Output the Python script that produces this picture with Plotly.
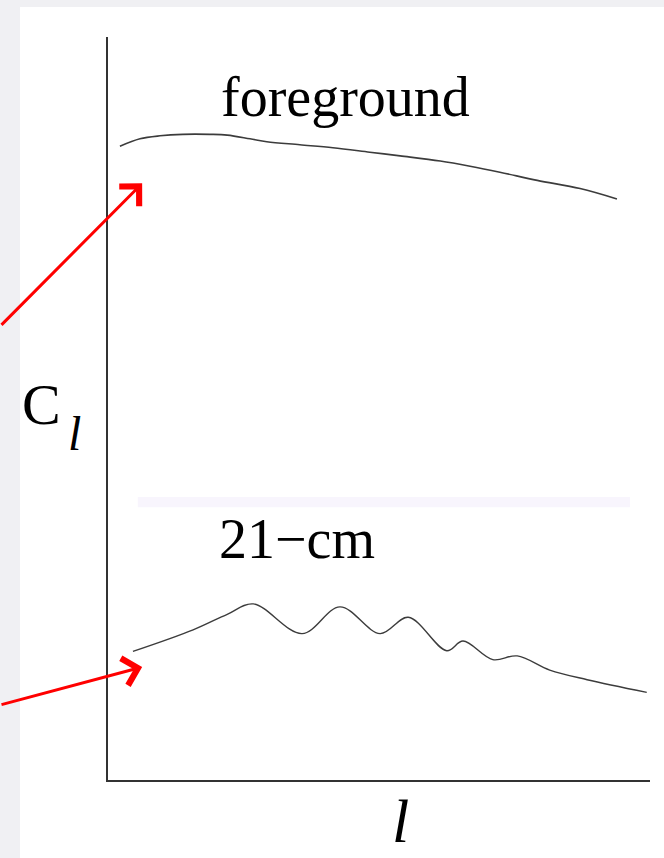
import plotly.graph_objects as go

# Angular power spectrum sketch: smooth foreground vs. oscillating 21-cm signal
# multipole axis (arbitrary units)
fg_ell = [2.2, 5.9, 9.6, 13.8, 18.8, 22.0, 26.2, 29.3, 35.4, 41.5, 48.3, 53.9,
          61.3, 66.8, 72.3, 79.2, 87.1, 93.9]
fg_cl = [85.3, 86.3, 86.7, 86.9, 86.9, 86.8, 86.3, 85.9, 85.5, 85.1, 84.5, 84.0,
         83.3, 82.6, 81.8, 80.7, 79.6, 78.2]

# 21-cm curve: peaks and troughs of the oscillations plus the smooth tails
hi_ell = [4.6, 15.7, 22.0, 26.8, 35.8, 42.8, 50.2, 55.4, 62.5, 65.5, 71.0, 75.5,
          81.5, 88.4, 99.4]
hi_cl = [17.3, 20.2, 22.3, 23.7, 19.7, 23.3, 19.7, 21.9, 17.4, 18.7, 16.2, 16.7,
         14.8, 13.5, 11.8]

x_range = [0, 100]
y_range = [0, 100]

# arrow tips pointing at each curve
fg_arrow_tip = (6.3, 80.3)
hi_arrow_tip = (6.3, 15.2)

SERIF = "Liberation Serif, Times New Roman, serif"
CURVE = "#3c3c3c"

fig = go.Figure()
fig.add_trace(go.Scatter(x=fg_ell, y=fg_cl, mode="lines",
                         line=dict(color=CURVE, width=1.6, shape="spline", smoothing=1.0),
                         hoverinfo="skip", showlegend=False))
fig.add_trace(go.Scatter(x=hi_ell, y=hi_cl, mode="lines",
                         line=dict(color=CURVE, width=1.4, shape="spline", smoothing=1.0),
                         hoverinfo="skip", showlegend=False))

shapes = [
    # white panel over the grey page
    dict(type="rect", xref="paper", yref="paper", x0=-0.1624, x1=1.05, y0=-0.12, y1=1.0404,
         fillcolor="white", line=dict(width=0), layer="below"),
    # faint separator band
    dict(type="rect", xref="x", yref="y", x0=5.5, x1=96.3, y0=36.7, y1=38.1,
         fillcolor="#f8f5fd", line=dict(width=0), layer="below"),
]

annotations = [
    dict(text="foreground", x=43.9, y=91.9, xref="x", yref="y", showarrow=False,
         font=dict(family=SERIF, size=56, color="black"), xanchor="center", yanchor="middle"),
    dict(text="21\u2212cm", x=34.9, y=32.5, xref="x", yref="y", showarrow=False,
         font=dict(family=SERIF, size=56, color="black"), xanchor="center", yanchor="middle"),
    dict(text="C", x=-0.1235, y=0.505, xref="paper", yref="paper", showarrow=False,
         font=dict(family=SERIF, size=58, color="black"), xanchor="center", yanchor="middle"),
    dict(text="<i>l</i>", x=-0.0609, y=0.467, xref="paper", yref="paper", showarrow=False,
         font=dict(family=SERIF, size=48, color="black"), xanchor="center", yanchor="middle"),
    dict(text="<i>l</i>", x=0.539, y=-0.055, xref="paper", yref="paper", showarrow=False,
         font=dict(family=SERIF, size=62, color="black"), xanchor="center", yanchor="middle"),
    dict(text="", x=fg_arrow_tip[0], y=fg_arrow_tip[1], xref="x", yref="y",
         showarrow=True, ax=-162, ay=143, axref="pixel", ayref="pixel",
         arrowhead=4, arrowsize=1.8, arrowwidth=3, arrowcolor="#ff0000", standoff=0),
    dict(text="", x=hi_arrow_tip[0], y=hi_arrow_tip[1], xref="x", yref="y",
         showarrow=True, ax=-162, ay=38, axref="pixel", ayref="pixel",
         arrowhead=4, arrowsize=1.8, arrowwidth=3, arrowcolor="#ff0000", standoff=0),
]

axis_common = dict(showgrid=False, zeroline=False, showticklabels=False, ticks="",
                   showline=True, linecolor="#333333", linewidth=2, fixedrange=True)

fig.update_layout(
    width=664, height=858, autosize=False,
    margin=dict(l=108, r=14, t=37, b=78, pad=0),
    paper_bgcolor="#f0f0f3", plot_bgcolor="rgba(0,0,0,0)",
    xaxis=dict(range=x_range, **axis_common),
    yaxis=dict(range=y_range, **axis_common),
    shapes=shapes, annotations=annotations, showlegend=False,
)

fig.write_html("out.html", config={"displayModeBar": False})
